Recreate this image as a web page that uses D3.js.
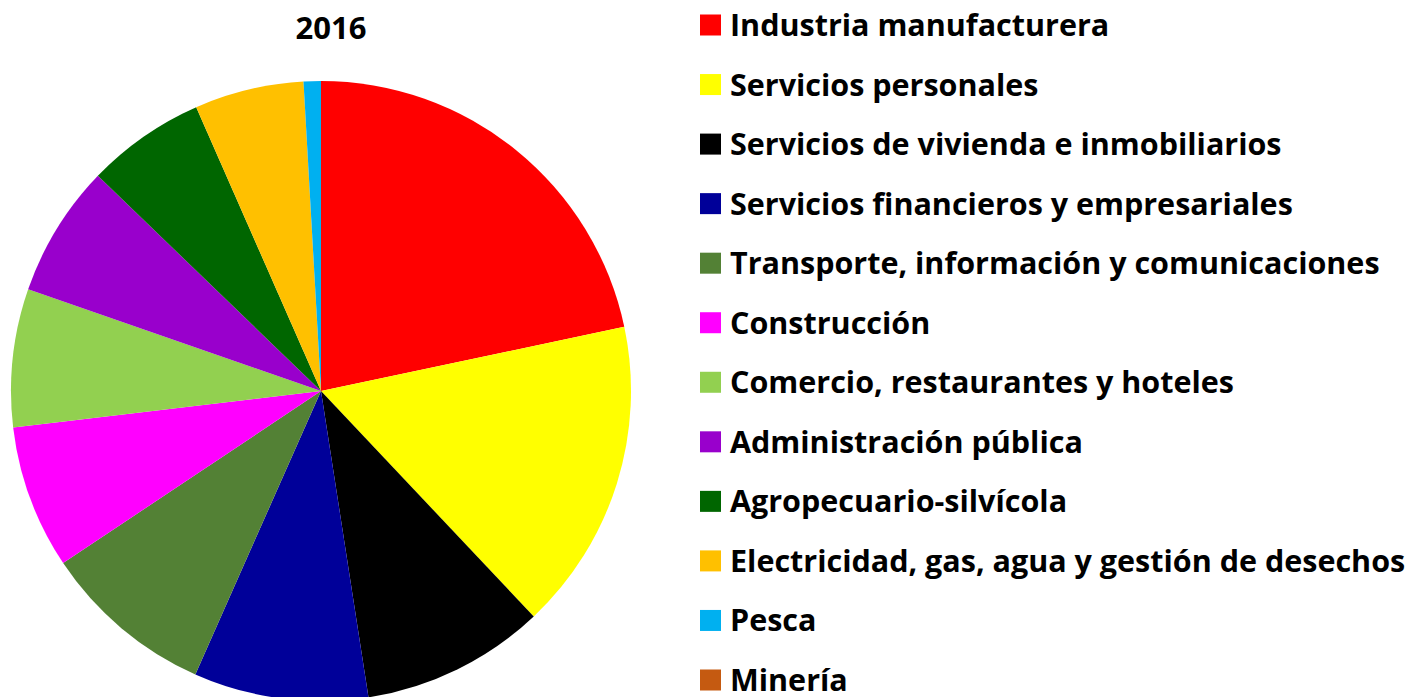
<!DOCTYPE html>
<html>
<head>
<meta charset="utf-8">
<script src="https://cdn.jsdelivr.net/npm/d3@7"></script>
<style>
  body { margin: 0; background: #fff; }
  svg { display: block; font-family: "Open Sans", sans-serif; font-weight: bold; }
</style>
</head>
<body>
<div id="chart"></div>
<script>
// sectors, in the order they appear (clockwise from 12 o'clock)
const sectors = [
  "Industria manufacturera",
  "Servicios personales",
  "Servicios de vivienda e inmobiliarios",
  "Servicios financieros y empresariales",
  "Transporte, información y comunicaciones",
  "Construcción",
  "Comercio, restaurantes y hoteles",
  "Administración pública",
  "Agropecuario-silvícola",
  "Electricidad, gas, agua y gestión de desechos",
  "Pesca",
  "Minería"
];
// share of total, %
const shares = [21.7, 16.3, 9.6, 9.1, 9.0, 7.5, 7.2, 6.9, 6.2, 5.7, 0.9, 0];
const colors = ["#ff0000", "#ffff00", "#000000", "#000099", "#538135", "#ff00ff",
                "#92d050", "#9900cc", "#006600", "#ffc000", "#00b0f0", "#c55a11"];
const title = "2016";

const width = 1424, height = 697;
const cx = 321, cy = 391, radius = 310;

const svg = d3.select("#chart").append("svg")
    .attr("width", width)
    .attr("height", height);

svg.append("text")
    .attr("x", 331)
    .attr("y", 39)
    .attr("text-anchor", "middle")
    .attr("font-size", 31)
    .text(title);

const data = sectors.map((s, i) => ({name: s, value: shares[i], color: colors[i]}));

const pie = d3.pie().sort(null).value(d => d.value);
const arc = d3.arc().innerRadius(0).outerRadius(radius);

const g = svg.append("g").attr("transform", `translate(${cx}, ${cy})`);
g.selectAll("path")
    .data(pie(data))
    .enter()
    .append("path")
      .attr("d", arc)
      .attr("fill", d => d.data.color);

// legend on the right
const legendY = d3.scalePoint().domain(sectors).range([25, 680]);

const legend = svg.append("g").attr("transform", "translate(700, 0)");
const rows = legend.selectAll("g")
    .data(data)
    .enter()
    .append("g")
      .attr("transform", d => `translate(0, ${legendY(d.name)})`);

rows.append("rect")
    .attr("x", 0)
    .attr("y", -10.5)
    .attr("width", 21)
    .attr("height", 21)
    .attr("fill", d => d.color);

rows.append("text")
    .attr("x", 30)
    .attr("y", 11)
    .attr("font-size", 30.5)
    .text(d => d.name);
</script>
</body>
</html>
